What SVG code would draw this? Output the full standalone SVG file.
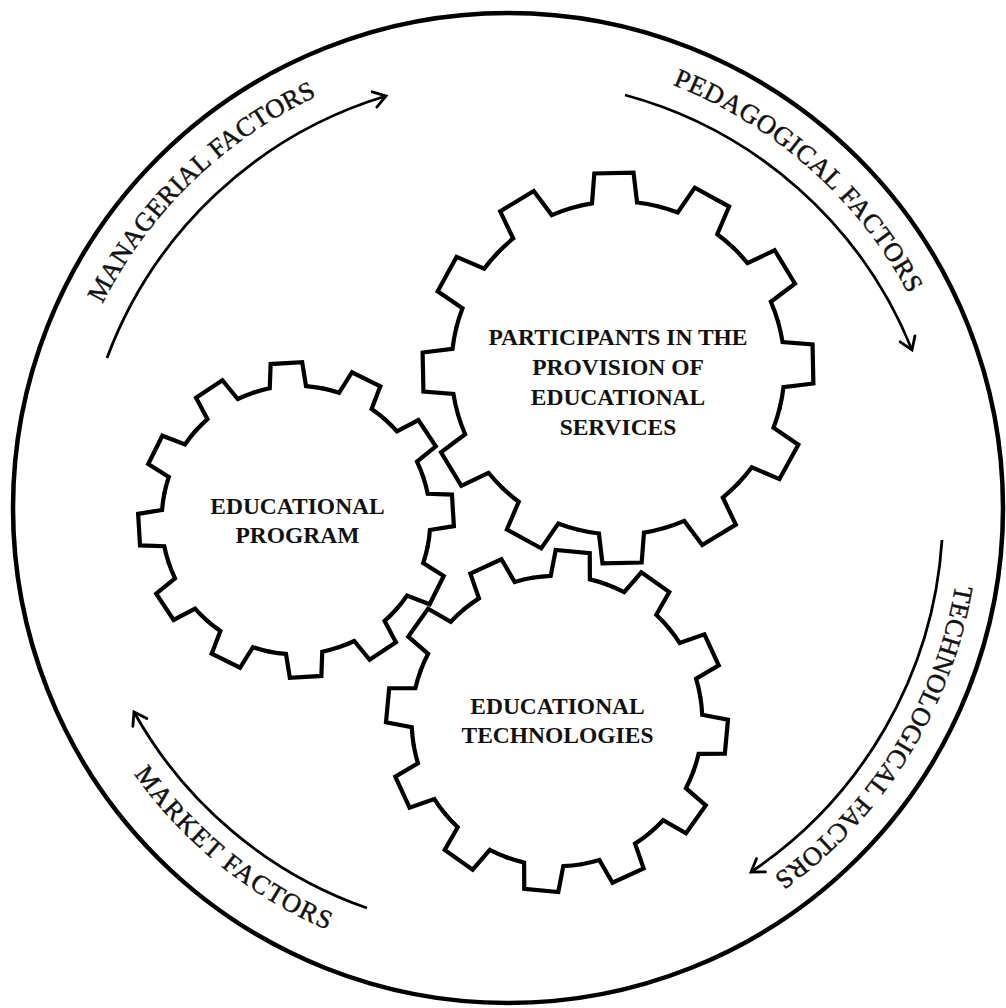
<svg xmlns="http://www.w3.org/2000/svg" xmlns:xlink="http://www.w3.org/1999/xlink" width="1006" height="1008" viewBox="0 0 1006 1008">
<style>
.gear{fill:none;stroke:#000;stroke-linecap:round;stroke-linejoin:miter}
.glabel{font-family:"Liberation Serif","Times New Roman",serif;font-weight:bold;font-size:23.5px;fill:#111;text-anchor:middle}
.flabel{font-family:"Liberation Serif","Times New Roman",serif;font-size:26.5px;fill:#111;stroke:#111;stroke-width:0.45}
.arc{fill:none;stroke:#000;stroke-width:2.8;marker-end:url(#arrow)}
</style>
<defs>
<marker id="arrow" markerUnits="userSpaceOnUse" markerWidth="24" markerHeight="24" viewBox="-18 -12 24 24" refX="0" refY="0" orient="auto" overflow="visible">
<path d="M-12,-8 L0,0 L-12,8" fill="none" stroke="#000" stroke-width="2.8" stroke-linecap="round"/>
</marker>
<path id="seg" d="M-22,-82.1 A85,85 0 0 1 -11.5,-84.22 L-10,-99.5 L10,-99.5 L11.5,-84.22 A85,85 0 0 1 22,-82.1"/>
<g id="gearShape">
<use xlink:href="#seg"/>
<use xlink:href="#seg" transform="rotate(30)"/>
<use xlink:href="#seg" transform="rotate(60)"/>
<use xlink:href="#seg" transform="rotate(90)"/>
<use xlink:href="#seg" transform="rotate(120)"/>
<use xlink:href="#seg" transform="rotate(150)"/>
<use xlink:href="#seg" transform="rotate(180)"/>
<use xlink:href="#seg" transform="rotate(210)"/>
<use xlink:href="#seg" transform="rotate(240)"/>
<use xlink:href="#seg" transform="rotate(270)"/>
<use xlink:href="#seg" transform="rotate(300)"/>
<use xlink:href="#seg" transform="rotate(330)"/>
</g>
<path id="tpMan" d="M54.1,500.9 A454,454 0 0 1 515.1,54.1"/>
<path id="tpPed" d="M481.1,54.8 A454,454 0 0 1 961.2,481.1"/>
<path id="tpTech" d="M950.4,405.9 A454,454 0 0 1 610.1,950.4"/>
<path id="tpMkt" d="M51.7,557.6 A459,459 0 0 0 557.6,964.3"/>
</defs>

<rect width="1006" height="1008" fill="#fff"/>

<circle id="outer-circle" cx="508" cy="508" r="495" fill="none" stroke="#000" stroke-width="4.5"/>

<g id="connectors">
<path class="arc" d="M107,358 A430,430 0 0 1 386,96"/>
<path class="arc" d="M625,95 A430,430 0 0 1 912,350"/>
<path class="arc" d="M942,540 A434,434 0 0 1 751,872"/>
<path class="arc" d="M367,908 A428,428 0 0 1 134,712"/>
</g>

<g id="label-managerial">
<text class="flabel" letter-spacing="0.2"><textPath xlink:href="#tpMan" startOffset="50%" text-anchor="middle">MANAGERIAL FACTORS</textPath></text>
</g>
<g id="label-pedagogical">
<text class="flabel" letter-spacing="0.6"><textPath xlink:href="#tpPed" startOffset="50%" text-anchor="middle">PEDAGOGICAL FACTORS</textPath></text>
</g>
<g id="label-technological">
<text class="flabel" letter-spacing="0.3"><textPath xlink:href="#tpTech" startOffset="50%" text-anchor="middle">TECHNOLOGICAL FACTORS</textPath></text>
</g>
<g id="label-market">
<text class="flabel" letter-spacing="1.3"><textPath xlink:href="#tpMkt" startOffset="50%" text-anchor="middle">MARKET FACTORS</textPath></text>
</g>

<g id="node-participants">
<use xlink:href="#gearShape" class="gear" stroke-width="2.14" transform="translate(618,368) rotate(-1.2) scale(1.96)"/>
<text class="glabel" x="618" y="345">PARTICIPANTS IN THE</text>
<text class="glabel" x="618" y="375">PROVISION OF</text>
<text class="glabel" x="618" y="405">EDUCATIONAL</text>
<text class="glabel" x="618" y="435">SERVICES</text>
</g>

<g id="node-program">
<use xlink:href="#gearShape" class="gear" stroke-width="2.66" transform="translate(296,520) rotate(-3.5) scale(1.58)"/>
<text class="glabel" x="297.5" y="514">EDUCATIONAL</text>
<text class="glabel" x="297.5" y="543">PROGRAM</text>
</g>

<g id="node-technologies">
<use xlink:href="#gearShape" class="gear" stroke-width="2.46" transform="translate(557,721) rotate(5.3) scale(1.71)"/>
<text class="glabel" x="557.5" y="714">EDUCATIONAL</text>
<text class="glabel" x="557.5" y="743">TECHNOLOGIES</text>
</g>
</svg>
